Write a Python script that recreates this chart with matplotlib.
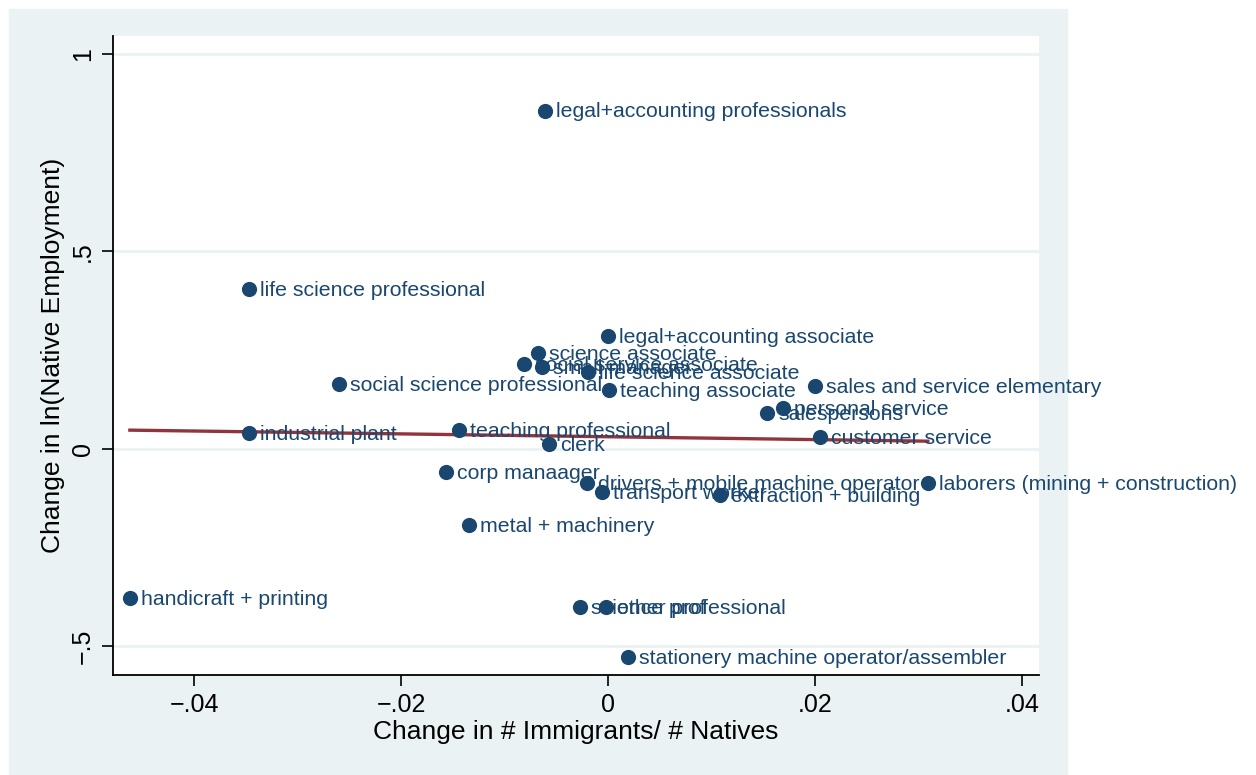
import numpy as np
import matplotlib
matplotlib.use("Agg")
from matplotlib import pyplot as plt
from matplotlib.patches import Rectangle

# occupation labels and values
occupations = [
    "legal+accounting professionals", "life science professional",
    "legal+accounting associate", "science associate",
    "social service associate", "small manager", "life science associate",
    "teaching associate", "social science professional",
    "sales and service elementary", "personal service", "salespersons",
    "industrial plant", "teaching professional", "clerk", "customer service",
    "corp manaager", "drivers + mobile machine operator", "transport worker",
    "extraction + building", "laborers (mining + construction)",
    "metal + machinery", "handicraft + printing", "science prof",
    "other professional", "stationery machine operator/assembler",
]
imm_change = [
    -0.0061, -0.0347, 0.0000, -0.0068, -0.0081, -0.0064, -0.0019,
    0.0001, -0.0260, 0.0200, 0.0169, 0.0154, -0.0347, -0.0144,
    -0.0057, 0.0205, -0.0157, -0.0020, -0.0006, 0.0108, 0.0309,
    -0.0134, -0.0462, -0.0027, -0.0002, 0.0019,
]
native_emp_change = [
    0.856, 0.405, 0.284, 0.241, 0.214, 0.206, 0.193,
    0.148, 0.163, 0.158, 0.102, 0.090, 0.039, 0.047,
    0.011, 0.029, -0.059, -0.086, -0.110, -0.118, -0.087,
    -0.193, -0.378, -0.402, -0.402, -0.528,
]
xticks = [-0.04, -0.02, 0, 0.02, 0.04]
xticklabels = ["\u2212.04", "\u2212.02", "0", ".02", ".04"]
yticks = [-0.5, 0, 0.5, 1]
yticklabels = ["\u2212.5", "0", ".5", "1"]

navy = "#1a476f"
maroon = "#90353b"
bg = "#eaf2f3"

plt.rcParams["font.family"] = ["Liberation Sans", "DejaVu Sans"]

W, H = 1256, 775
fig = plt.figure(figsize=(W / 100, H / 100), dpi=100)
fig.patch.set_facecolor("white")
bg_rect = Rectangle((9 / W, 0), (1067 - 9) / W, 1 - 9 / H,
                    transform=fig.transFigure, color=bg, zorder=-10)
fig.patches.append(bg_rect)

ax = fig.add_axes([113 / W, 1 - 675 / H, (1039 - 113) / W, (675 - 36) / H])
ax.set_facecolor("white")
ax.set_xlim(-0.04783, 0.04164)
ax.set_ylim(-0.573, 1.0446)

for yt in yticks:
    ax.axhline(yt, color=bg, lw=2, zorder=1)

x = np.array(imm_change)
y = np.array(native_emp_change)

# linear fit line over the range of x
slope, intercept = np.polyfit(x, y, 1)
xf = np.array([x.min(), x.max()])
ax.plot(xf, intercept + slope * xf, color=maroon, lw=2.4, zorder=3)

ax.scatter(x, y, s=120, color=navy, zorder=4, linewidths=0)
for name, xi, yi in zip(occupations, x, y):
    ax.annotate(name, (xi, yi), xytext=(8, -1), textcoords="offset points",
                va="center", ha="left", color=navy, fontsize=15.3,
                annotation_clip=False, zorder=5)

for s in ["top", "right"]:
    ax.spines[s].set_visible(False)
for s in ["left", "bottom"]:
    ax.spines[s].set_linewidth(1.3)

ax.set_xticks(xticks)
ax.set_xticklabels(xticklabels, fontsize=18)
ax.set_yticks(yticks)
ax.set_yticklabels(yticklabels, fontsize=18, rotation=90, va="center")
ax.tick_params(length=8, width=1.2, pad=5)

ax.set_xlabel("Change in # Immigrants/ # Natives", fontsize=19, labelpad=2)
ax.set_ylabel("Change in ln(Native Employment)", fontsize=19, labelpad=4)

fig.savefig("out.png", dpi=100)
